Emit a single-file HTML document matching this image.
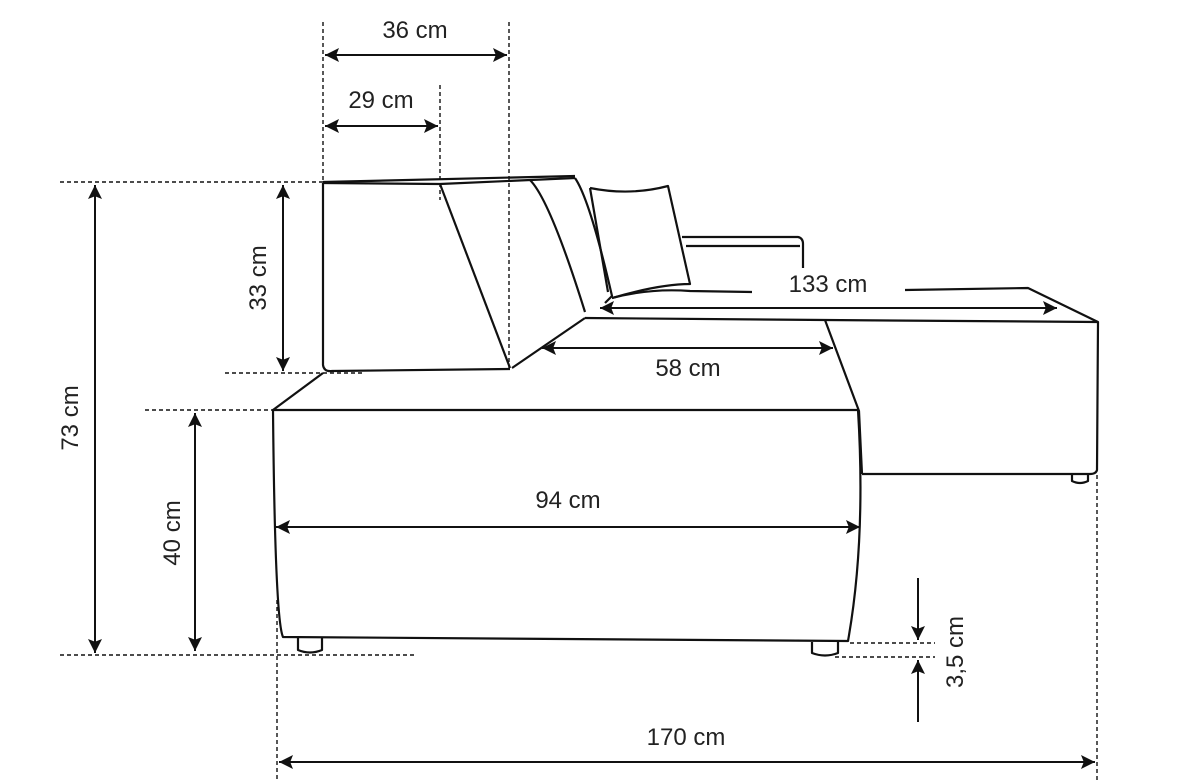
<!DOCTYPE html>
<html><head><meta charset="utf-8"><style>
html,body{margin:0;padding:0;background:#fff;}
svg{display:block;}
text{font-family:"Liberation Sans",sans-serif;font-size:24px;fill:#222;}
</style></head><body>
<svg width="1186" height="783" viewBox="0 0 1186 783" xmlns="http://www.w3.org/2000/svg">
<defs>
<marker id="b" viewBox="0 0 10 10" refX="10" refY="5" markerWidth="22" markerHeight="14" orient="auto-start-reverse" markerUnits="userSpaceOnUse"><path d="M0,0 L10,5 L0,10 L2,5 z" fill="#111"/></marker>
</defs>
<g fill="none" stroke="#111" stroke-width="2.2" stroke-linejoin="round">
<path d="M273,410 L858,410 Q866,540 848,641 L283,637 Q275,620 273,410 Z" fill="#fff"/>
<path d="M298,638 L298,650 Q310,655 322,650 L322,638"/>
<path d="M812,642 L812,653 Q825,658 838,653 L838,642"/>
<path d="M273,410 L323,373"/>
<path d="M512,368 L585,318"/>
<path d="M323,183 L323,365 Q324,372 332,371 L510,369"/>
<path d="M323,183 L440,184 L575,178"/>
<path d="M323,182 L575,176"/>
<path d="M440,184 L510,368"/>
<path d="M530,180 Q550,200 585,312"/>
<path d="M575,178 Q590,200 612,296 L605,303"/>
<path d="M590,188 Q630,196 668,186 L690,284 Q660,284 612,298"/>
<path d="M590,188 L608,292"/>
<path d="M612,298 Q650,288 690,291 L752,292"/>
<path d="M682,237 L798,237 Q803,238 803,244 L803,268"/>
<path d="M686,246 L800,246"/>
<path d="M585,318 L825,320 L1098,322"/>
<path d="M905,290 L1028,288 L1098,322 L1097,470 Q1096,474 1090,474 L862,474"/>
<path d="M825,320 L859,411 L862,474"/>
<path d="M1072,474 L1072,481 Q1080,485 1088,481 L1088,474"/>
</g>
<g stroke="#111" stroke-width="1.4" stroke-dasharray="4,3" fill="none">
<path d="M323,22 V183 M509,22 V370 M440,85 V200"/>
<path d="M60,182 H323 M225,373 H365 M145,410 H273 M60,655 H415"/>
<path d="M277,600 V780 M1097,475 V780"/>
<path d="M850,643 H935 M835,657 H935"/>
</g>
<g stroke="#111" stroke-width="2" fill="none">
<path d="M325,55 H507" marker-start="url(#b)" marker-end="url(#b)"/>
<path d="M325,126 H438" marker-start="url(#b)" marker-end="url(#b)"/>
<path d="M95,185 V653" marker-start="url(#b)" marker-end="url(#b)"/>
<path d="M283,185 V371" marker-start="url(#b)" marker-end="url(#b)"/>
<path d="M195,413 V651" marker-start="url(#b)" marker-end="url(#b)"/>
<path d="M276,527 H860" marker-start="url(#b)" marker-end="url(#b)"/>
<path d="M542,348 H833" marker-start="url(#b)" marker-end="url(#b)"/>
<path d="M600,308 H1057" marker-start="url(#b)" marker-end="url(#b)"/>
<path d="M279,762 H1095" marker-start="url(#b)" marker-end="url(#b)"/>
<path d="M918,578 V640" marker-end="url(#b)"/>
<path d="M918,722 V660" marker-end="url(#b)"/>
</g>
<rect x="760" y="270" width="140" height="30" fill="#fff"/>
<text x="415" y="38" text-anchor="middle">36 cm</text>
<text x="381" y="108" text-anchor="middle">29 cm</text>
<text x="828" y="292" text-anchor="middle">133 cm</text>
<text x="688" y="376" text-anchor="middle">58 cm</text>
<text x="568" y="508" text-anchor="middle">94 cm</text>
<text x="686" y="745" text-anchor="middle">170 cm</text>
<text transform="translate(78,418) rotate(-90)" text-anchor="middle">73 cm</text>
<text transform="translate(266,278) rotate(-90)" text-anchor="middle">33 cm</text>
<text transform="translate(180,533) rotate(-90)" text-anchor="middle">40 cm</text>
<text transform="translate(963,652) rotate(-90)" text-anchor="middle">3,5 cm</text>
</svg>
</body></html>
